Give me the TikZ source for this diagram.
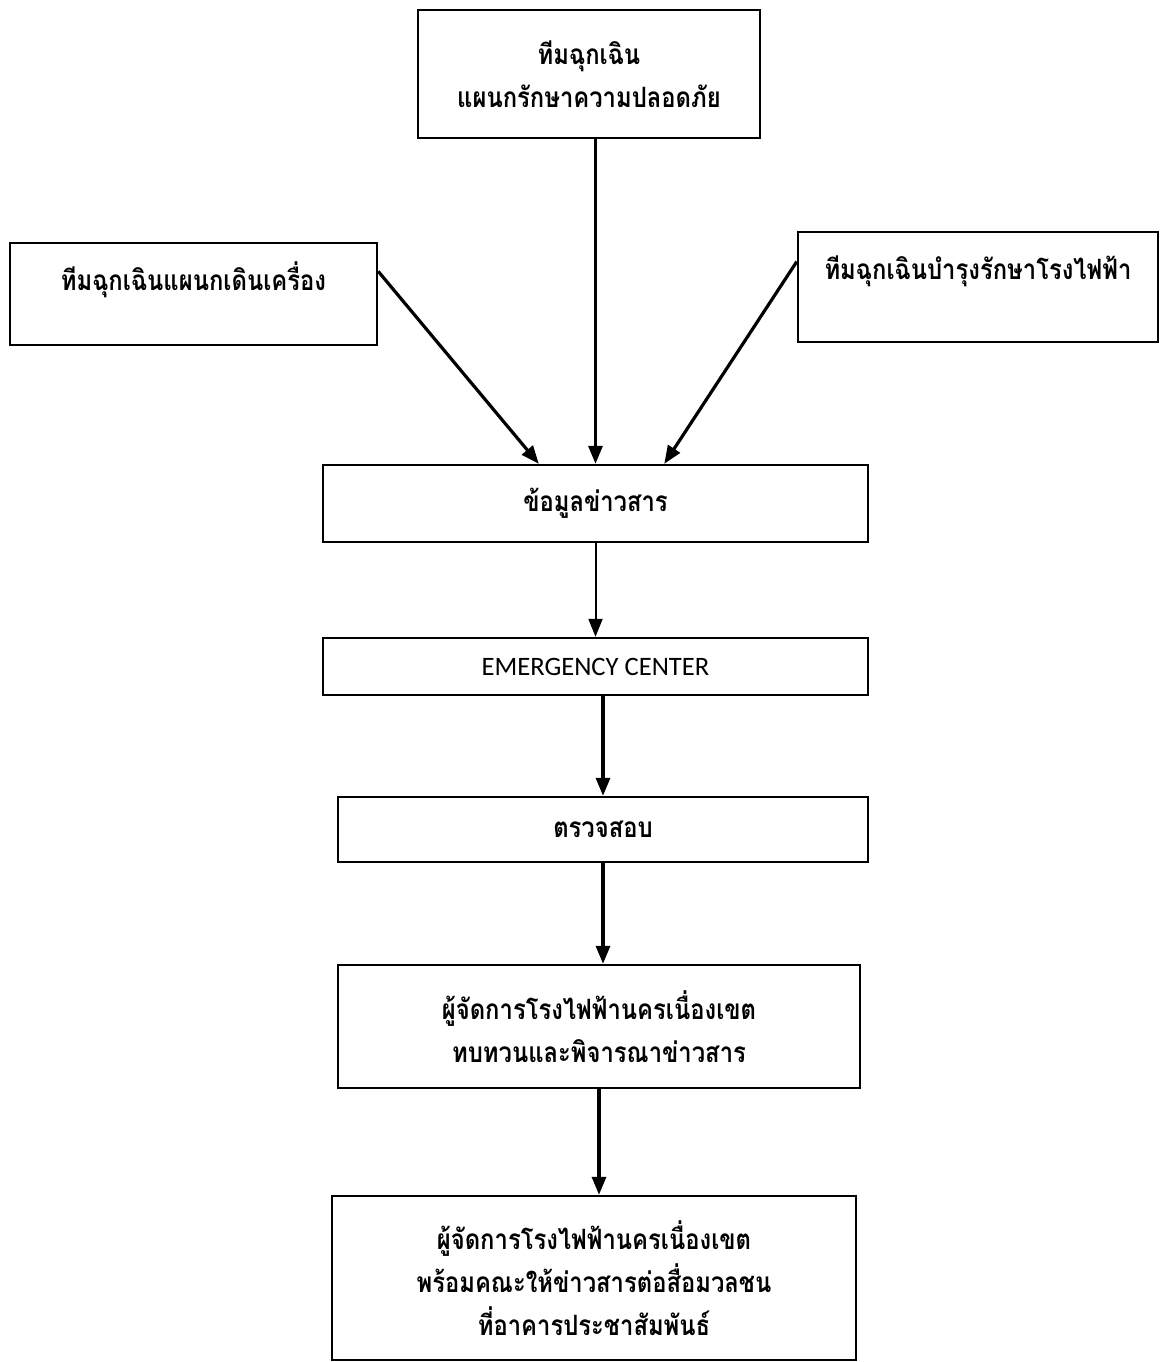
\documentclass[tikz,border=0pt]{standalone}
\usepackage{fontspec}
\newfontfamily\thaifont[Script=Thai, FakeStretch=0.85]{Loma}
\newfontfamily\latinfont{Carlito}
\usetikzlibrary{arrows.meta}

\begin{document}
\begin{tikzpicture}[x=0.5pt, y=-0.5pt, >={Triangle[length=9pt,width=7pt]},
  box/.style={draw, line width=1.2pt, align=center, inner sep=0pt,
    font=\thaifont\bfseries\fontsize{14}{21.5}\selectfont},
  flow/.style={->, line width=1.6pt}]
  \useasboundingbox (0,0) rectangle (1162,1362);

  \node[box, minimum width=171pt, minimum height=64pt] (T) at (589,74)
    {ทีมฉุกเฉิน\\แผนกรักษาความปลอดภัย};
  \node[box, minimum width=183.5pt, minimum height=51pt, text height=10pt, text depth=14pt]
    (L) at (193.5,294) {ทีมฉุกเฉินแผนกเดินเครื่อง};
  \node[box, minimum width=180pt, minimum height=55pt, text height=10pt, text depth=18pt]
    (R) at (978,287) {ทีมฉุกเฉินบำรุงรักษาโรงไฟฟ้า};
  \node[box, minimum width=272.5pt, minimum height=38.5pt] (I) at (595.5,503.5)
    {ข้อมูลข่าวสาร};
  \node[box, minimum width=272.5pt, minimum height=28.5pt,
    font=\latinfont\fontsize{13.3}{15}\selectfont] (E) at (595.5,666.5) {EMERGENCY CENTER};
  \node[box, minimum width=265pt, minimum height=32.5pt] (C) at (603,829.5) {ตรวจสอบ};
  \node[box, minimum width=261pt, minimum height=61.5pt] (M) at (599,1026.5)
    {ผู้จัดการโรงไฟฟ้านครเนื่องเขต\\ทบทวนและพิจารณาข่าวสาร};
  \node[box, minimum width=262pt, minimum height=82pt] (F) at (594,1278)
    {ผู้จัดการโรงไฟฟ้านครเนื่องเขต\\พร้อมคณะให้ข่าวสารต่อสื่อมวลชน\\ที่อาคารประชาสัมพันธ์};

  \draw[flow] (T.south -| I.north) -- (I.north);
  \draw[flow] (L.7) -- (I.145);
  \draw[flow] (R.172) -- (I.30);
  \draw[flow, line width=1pt] (I.south) -- (E.north);
  \draw[flow] (E.south -| C.north) -- (C.north);
  \draw[flow] (C.south) -- (C.south |- M.north);
  \draw[flow] (M.south) -- (M.south |- F.north);
\end{tikzpicture}
\end{document}
